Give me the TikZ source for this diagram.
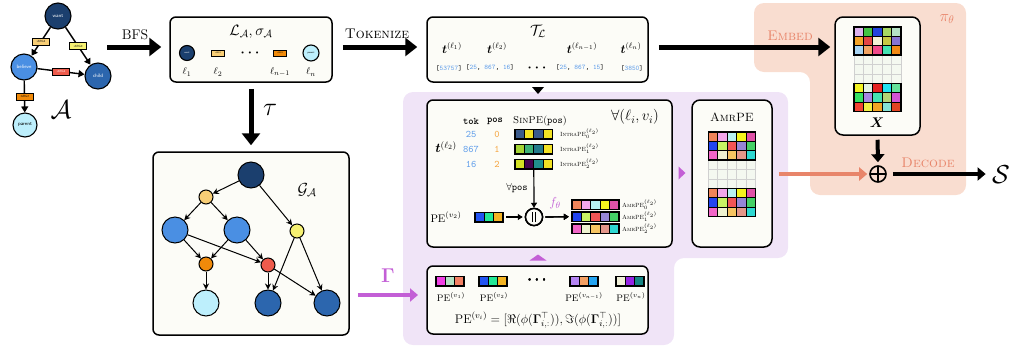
\RequirePackage{fix-cm}
\documentclass[tikz,border=0pt]{standalone}
\usepackage{amsmath,amssymb,bm}
\usetikzlibrary{arrows.meta,positioning,calc,shapes.geometric}

\definecolor{navyA}{HTML}{1B3F6E}
\definecolor{blueA}{HTML}{4A8FE3}
\definecolor{blueB}{HTML}{2C66AE}
\definecolor{cyanA}{HTML}{BDEFFC}
\definecolor{argone}{HTML}{F8CE76}
\definecolor{argzero}{HTML}{F6F172}
\definecolor{argred}{HTML}{EE5B4C}
\definecolor{argtwo}{HTML}{F08A0A}
\definecolor{boxfill}{HTML}{FCFCF7}
\definecolor{salmonbg}{HTML}{F9DDD0}
\definecolor{salmon}{HTML}{E8856A}
\definecolor{lilacbg}{HTML}{F0E4F7}
\definecolor{lilac}{HTML}{C35FD6}
\definecolor{tokblue}{HTML}{5B9BEA}
\definecolor{posorange}{HTML}{F5A23A}
\definecolor{gridgray}{HTML}{D0D0D0}
\definecolor{gridfill}{HTML}{F4F8F0}

\newcommand{\cellw}{9.4}
% one row of coloured cells: left, top, hex colours
\newcommand{\cellrow}[3]{%
  \foreach \hx [count=\k from 0] in {#3}{%
    \definecolor{cellc}{HTML}{\hx}%
    \filldraw[fill=cellc, draw=black, line width=0.9pt] ({#1+\k*\cellw},{#2}) rectangle ++(\cellw,\cellw);
  }%
}
% thick frame round a block of cells: left, top, cols, rows
\newcommand{\cellbox}[4]{%
  \draw[line width=1.6pt] (#1,#2) rectangle ++({#3*\cellw},{#4*\cellw});
}
% three empty grey rows of five cells: left, top
\newcommand{\greyrows}[2]{%
  \foreach \r in {0,1,2}{\foreach \k in {0,...,4}{%
    \filldraw[fill=gridfill, draw=gridgray, line width=1pt] ({#1+\k*\cellw},{#2+\r*\cellw}) rectangle ++(\cellw,\cellw);
  }}%
}
\newcommand{\bdots}{{\fontsize{7}{7}\selectfont\textbullet\,\textbullet\,\textbullet}}

\begin{document}
\begin{tikzpicture}[
    x=1pt, y=-1pt,
    panel/.style={draw, rounded corners=6pt, line width=1.5pt, fill=boxfill},
    amr/.style={circle, draw, line width=1.1pt, minimum size=26pt, inner sep=0pt, text=white, font=\fontsize{5}{5}\selectfont\sffamily},
    argbox/.style={draw, line width=1pt, inner sep=0pt, minimum width=17pt, minimum height=7pt, font=\fontsize{3}{3}\selectfont\sffamily},
    amredge/.style={-{Triangle[length=6pt,width=7pt]}, line width=1.4pt},
    gnode/.style={circle, draw, line width=1pt, minimum size=26pt, inner sep=0pt},
    gsmall/.style={gnode, minimum size=14pt},
    gedge/.style={-{Stealth[length=6pt,width=6pt]}, line width=1pt},
    bigarrow/.style={-{Triangle[length=12pt,width=18pt]}, line width=5pt},
    midarrow/.style={-{Triangle[length=8pt,width=13pt]}, line width=4pt},
    smallarrow/.style={-{Triangle[length=5pt,width=6pt]}, line width=1.2pt},
    lbl/.style={font=\fontsize{14}{16}\selectfont},
    bigtxt/.style={font=\fontsize{26}{28}\selectfont},
    toklist/.style={font=\fontsize{7}{8}\selectfont\ttfamily},
    tinytxt/.style={font=\fontsize{6}{7}\selectfont, anchor=west, inner sep=0pt},
    pelbl/.style={font=\fontsize{9.5}{11}\selectfont},
    strip/.style={minimum width=28.2pt, minimum height=9.4pt, inner sep=0pt},
    sumnode/.style={circle, draw, line width=1.6pt, minimum size=16pt, inner sep=0pt,
      path picture={\draw[line width=1.5pt] (path picture bounding box.north) -- (path picture bounding box.south)
                                         (path picture bounding box.west) -- (path picture bounding box.east);}}
]
\useasboundingbox (0,0) rectangle (1011,349);

% Background regions
\fill[salmonbg, rounded corners=10pt] (754,3) -- (966,3) -- (966,195) -- (810,195) -- (810,72) -- (754,72) -- cycle;
\fill[lilacbg, rounded corners=10pt] (403,92) -- (788,92) -- (788,258) -- (674,258) -- (674,345) -- (403,345) -- cycle;
\node[font=\fontsize{16}{18}\selectfont, text=salmon] (pilbl) at (947,19) {$\pi_\theta$};

% AMR graph A
\node[amr, fill=navyA] (want) at (58,16) {want};
\node[amr, fill=blueA] (believe) at (24,67) {believe};
\node[amr, fill=blueB] (child) at (98,76) {child};
\node[amr, fill=cyanA, text=black, minimum size=24pt] (parent) at (25,125) {parent};
\draw[amredge] (want) -- node[argbox, fill=argone] {:ARG1} (believe);
\draw[amredge] (want) -- node[argbox, fill=argzero] {:ARG0} (child);
\draw[amredge] (believe) -- node[argbox, fill=argred, text=white] {:ARG1} (child);
\draw[amredge] (believe) -- node[argbox, fill=argtwo] {:ARG2} (parent);
\node[bigtxt] (amrname) at (61,110) {$\mathcal{A}$};

% Linearised sequence
\node[panel, minimum width=162pt, minimum height=65pt] (Lbox) at (251,49.5) {};
\node[font=\fontsize{15}{17}\selectfont] (Ltitle) at (251,32) {$\mathcal{L}_{\mathcal{A}},\sigma_{\mathcal{A}}$};
\node[amr, fill=navyA, minimum size=15pt, font=\fontsize{2.5}{3}\selectfont\sffamily] (lwant) at (187,53) {want};
\node[argbox, fill=argone, minimum width=13pt, minimum height=6pt, font=\fontsize{2}{2}\selectfont\sffamily] (larg) at (218,53) {:ARG1};
\node (ldots) at (250,53) {\bdots};
\node[argbox, fill=argtwo, minimum width=13pt, minimum height=6pt, font=\fontsize{2}{2}\selectfont\sffamily] (largtwo) at (280,53) {:ARG2};
\node[amr, fill=cyanA, text=black, minimum size=16pt, font=\fontsize{2.5}{3}\selectfont\sffamily] (lparent) at (311,53) {parent};
\foreach \nm/\xx/\tx in {lone/187/{\ell_1}, ltwo/218/{\ell_2}, lpen/280/{\ell_{n-1}}, llast/311/{\ell_n}}
  \node[font=\fontsize{10}{12}\selectfont] (\nm) at (\xx,72) {$\tx$};

% Tokenised sequence
\node[panel, minimum width=221pt, minimum height=65pt] (Tbox) at (537.5,49.5) {};
\node[font=\fontsize{15}{17}\selectfont] (Ttitle) at (538,31) {$\mathcal{T}_{\mathcal{L}}$};
\foreach \nm/\xx/\tx in {tone/452/{\ell_1}, ttwo/497/{\ell_2}, tpen/582/{\ell_{n-1}}, tlast/631/{\ell_n}}
  \node[font=\fontsize{12}{14}\selectfont] (\nm) at (\xx,48) {$\bm{t}^{(\tx)}$};
\node[toklist] (kone) at (449,68) {[\textcolor{tokblue}{53757}]};
\node[toklist] (ktwo) at (490,68) {[\textcolor{tokblue}{25}, \textcolor{tokblue}{867}, \textcolor{tokblue}{16}]};
\node (kdots) at (537,68) {\bdots};
\node[toklist] (kpen) at (580,68) {[\textcolor{tokblue}{25}, \textcolor{tokblue}{867}, \textcolor{tokblue}{15}]};
\node[toklist] (klast) at (632,68) {[\textcolor{tokblue}{3850}]};

% Top arrows
\coordinate (bfsfrom) at (107,47);
\draw[bigarrow, shorten >=8pt] (bfsfrom) -- (bfsfrom -| Lbox.west);
\node[lbl] (bfslbl) at (135,35) {BFS};
\draw[bigarrow, shorten <=10pt, shorten >=9pt] (Lbox.east |- bfsfrom) -- (Tbox.west |- bfsfrom);
\node[lbl] (toklbl) at (377,34) {\textsc{Tokenize}};

% Embedding matrix X
\node[panel, rounded corners=8pt, minimum width=85pt, minimum height=118pt] (Xbox) at (877.5,76) {};
\cellrow{854}{27}{DDB2EE,44C244,2244DD,A6D864,B4E2C4}
\cellrow{854}{36.4}{F4A428,E44444,F2F2D6,C6C844,8674D2}
\cellrow{854}{45.8}{A8D4F2,F2A464,F04A8A,44E2B2,F28A14}
\greyrows{854}{55.2}
\cellrow{854}{83.4}{F2F222,E2F2E2,E42222,22E2F2,64E29A}
\cellrow{854}{92.8}{34E264,A686E2,44E2B2,B4D474,D454D4}
\cellrow{854}{102.2}{F24434,F2F244,F2A424,84E2D4,E24424}
\cellbox{854}{27}{5}{3}
\cellbox{854}{83.4}{5}{3}
\node[font=\fontsize{14}{16}\selectfont] (Xlbl) at (877,123) {$\bm{X}$};
\draw[bigarrow, shorten <=10pt, shorten >=4pt] (Tbox.east |- bfsfrom) -- (Xbox.west |- bfsfrom);
\node[lbl, text=salmon] (embedlbl) at (790,36) {\textsc{Embed}};

% Sum and decoding
\node[sumnode] (plus) at (878,174) {};
\node[bigtxt] (outS) at (1001,175) {$\mathcal{S}$};
\draw[midarrow, shorten <=4pt, shorten >=3pt] (Xbox.south) -- (plus.north);
\draw[midarrow, shorten <=6pt, shorten >=3pt] (plus.east) -- (outS.west |- plus);
\node[lbl, text=salmon] (decodelbl) at (928,163) {\textsc{Decode}};

% Graph G_A
\node[panel, minimum width=196pt, minimum height=183pt] (Gbox) at (251,243.5) {};
\node[font=\fontsize{16}{18}\selectfont] (Gtitle) at (307,190) {$\mathcal{G}_{\mathcal{A}}$};
\node[gnode, fill=navyA] (groot) at (251,175) {};
\node[gsmall, fill=argone] (gargone) at (206,197) {};
\node[gnode, fill=blueA] (gbone) at (175,230) {};
\node[gnode, fill=blueA] (gbtwo) at (237,230) {};
\node[gsmall, fill=argzero] (gargzero) at (297,231) {};
\node[gsmall, fill=argtwo] (gargtwo) at (206,264) {};
\node[gsmall, fill=argred] (gargred) at (268,265) {};
\node[gnode, fill=cyanA] (gparent) at (206,303) {};
\node[gnode, fill=blueB] (gcone) at (268,303) {};
\node[gnode, fill=blueB] (gctwo) at (327,303) {};
\foreach \a/\b in {groot/gargone, groot/gargzero, gargone/gbone, gargone/gbtwo,
                   gbone/gargtwo, gbtwo/gargtwo, gbone/gargred, gbtwo/gargred,
                   gargtwo/gparent, gargred/gcone, gargred/gctwo, gargzero/gcone, gargzero/gctwo}
  \draw[gedge] (\a) -- (\b);
\draw[bigarrow, shorten <=6pt, shorten >=6pt] (Lbox.south) -- (Gbox.north);
\node[bigtxt] (taulbl) at (270,110) {$\tau$};

% Positional encodings (per node)
\node[panel, minimum width=221pt, minimum height=68pt] (pebox) at (537.5,300) {};
\foreach \nm/\xx in {sone/450, stwo/493, spen/584, slast/630}
  \node[strip] (\nm) at (\xx,281) {};
\cellrow{435.9}{276.3}{F040E4,B4E2C4,F28064}
\cellrow{478.9}{276.3}{2254F2,22E896,F4B424}
\cellrow{569.9}{276.3}{B484F2,F4A064,24A4F2}
\cellrow{615.9}{276.3}{F0F0D8,9424E4,148484}
\foreach \xx in {435.9,478.9,569.9,615.9}
  \cellbox{\xx}{276.3}{3}{1}
\node (sdots) at (537,280) {\bdots};
\foreach \nm/\xx/\tx in {pone/451/{v_1}, ptwo/494/{v_2}, ppen/584/{v_{n-1}}, plast/631/{v_n}}
  \node[pelbl] (\nm) at (\xx,297) {$\mathrm{PE}^{(\tx)}$};
\node[font=\fontsize{12.5}{14}\selectfont] (peform) at (538,320) {$\mathrm{PE}^{(v_i)}=[\Re(\phi(\bm{\Gamma}_{i,:}^{\top})),\Im(\phi(\bm{\Gamma}_{i,:}^{\top}))]$};
\coordinate (gammain) at (418,295);
\draw[midarrow, draw=lilac, fill=lilac, shorten <=8pt] (Gbox.east |- gammain) -- (gammain);
\node[font=\fontsize{20}{22}\selectfont, text=lilac] (gammalbl) at (388,276) {$\bm{\Gamma}$};

% Relative encodings (per token)
\node[panel, minimum width=245pt, minimum height=147pt] (relbox) at (549.5,173.5) {};
\node[font=\fontsize{15}{17}\selectfont] (forall) at (635,117) {$\forall(\ell_i,v_i)$};
\node[font=\fontsize{10}{12}\selectfont] (hdtok) at (471,121) {\texttt{\bfseries tok}};
\node[font=\fontsize{10}{12}\selectfont] (hdpos) at (495,121) {\texttt{\bfseries pos}};
\node[font=\fontsize{10}{12}\selectfont] (hdsin) at (540,121) {\textsc{SinPE}(\texttt{pos})};
\node[font=\fontsize{13}{15}\selectfont] (ttwoq) at (446,147) {$\bm{t}^{(\ell_2)}$};
\foreach \tk/\ps/\yy in {25/0/134, 867/1/149, 16/2/164}{
  \node[font=\fontsize{10}{12}\selectfont\ttfamily, text=tokblue] (tk\tk) at (471,\yy) {\tk};
  \node[font=\fontsize{10}{12}\selectfont\ttfamily, text=posorange] (ps\ps) at (497,\yy) {\ps};
  \node[tinytxt] (intra\ps) at (560,\yy) {\textsc{IntraPE}$_{\ps}^{(\ell_2)}$};
}
\node[minimum width=37.6pt, minimum height=39pt, inner sep=0pt] (sinblock) at (533.8,149) {};
\cellrow{515}{129.5}{3B5B8C,F2E224,3B5B8C,F2E224}
\cellrow{515}{144.5}{A4D434,3EB276,237A8A,F2E224}
\cellrow{515}{159.5}{D4E224,44064E,21918C,F2E224}
\foreach \yy in {129.5,144.5,159.5}
  \cellbox{515}{\yy}{4}{1}
\node[circle, draw, line width=1.5pt, minimum size=17pt, inner sep=0pt, fill=boxfill] (concat) at (534,217) {\rule{1.2pt}{10pt}\hspace{1.5pt}\rule{1.2pt}{10pt}};
\draw[smallarrow] (sinblock.south) -- (concat.north);
\node[font=\fontsize{10}{12}\selectfont] (forallpos) at (517,188) {$\forall$\texttt{pos}};
\node[font=\fontsize{11}{13}\selectfont] (pevtwo) at (446,217) {$\mathrm{PE}^{(v_2)}$};
\node[strip] (pestrip) at (489,217) {};
\cellrow{474.9}{212.3}{2254F2,22E896,F4B424}
\cellbox{474.9}{212.3}{3}{1}
\draw[smallarrow, shorten <=3pt, shorten >=2pt] (pestrip.east) -- (concat.west);
\node[minimum width=47pt, minimum height=33.4pt, inner sep=0pt] (outblock) at (595.5,216.7) {};
\cellrow{572}{200}{F0845A,F2A6EA,B8F2F2,F5F51E,E052A8}
\cellrow{572}{212}{2244F0,C8F264,F25555,9686D6,44D066}
\cellrow{572}{224}{F266C8,EEF2D0,F6C462,E4968A,2ED8D2}
\foreach \yy in {200,212,224}
  \cellbox{572}{\yy}{5}{1}
\draw[smallarrow, shorten <=2pt, shorten >=3pt] (concat.east) -- (outblock.west);
\node[font=\fontsize{13}{15}\selectfont, text=lilac] (flbl) at (555,203) {$f_\theta$};
\foreach \i/\yy in {0/204.7, 1/216.7, 2/228.7}
  \node[tinytxt] (amrpe\i) at (622,\yy) {\textsc{AmrPE}$_{\i}^{(\ell_2)}$};

% AmrPE matrix
\node[panel, rounded corners=8pt, minimum width=80pt, minimum height=147pt] (amrbox) at (732,173.5) {};
\node[font=\fontsize{12}{14}\selectfont] (amrtitle) at (732,117) {\textsc{AmrPE}};
\cellrow{708.5}{132}{F0845A,F2A6EA,B8F2F2,F5F51E,E052A8}
\cellrow{708.5}{141.4}{2244F0,C8F264,F25555,9686D6,44D066}
\cellrow{708.5}{150.8}{F266C8,EEF2D0,F6C462,E4968A,2ED8D2}
\greyrows{708.5}{160.2}
\cellrow{708.5}{188.4}{F0845A,F2A6EA,B8F2F2,F5F51E,E052A8}
\cellrow{708.5}{197.8}{2244F0,C8F264,F25555,9686D6,44D066}
\cellrow{708.5}{207.2}{F266C8,EEF2D0,F6C462,E4968A,2ED8D2}
\cellbox{708.5}{132}{5}{3}
\cellbox{708.5}{188.4}{5}{3}
\draw[midarrow, draw=salmon, fill=salmon, shorten <=6pt, shorten >=2pt] (amrbox.east |- plus) -- (plus.west);

% Small connector marks
\fill (532,87) -- (544,87) -- (538,94) -- cycle;
\fill[lilac] (678.5,166.5) -- ++(7,6.5) -- ++(-7,6.5) -- cycle;
\fill[lilac] (529.5,260.5) -- ++(8.5,-6) -- ++(8.5,6) -- cycle;

\end{tikzpicture}
\end{document}
